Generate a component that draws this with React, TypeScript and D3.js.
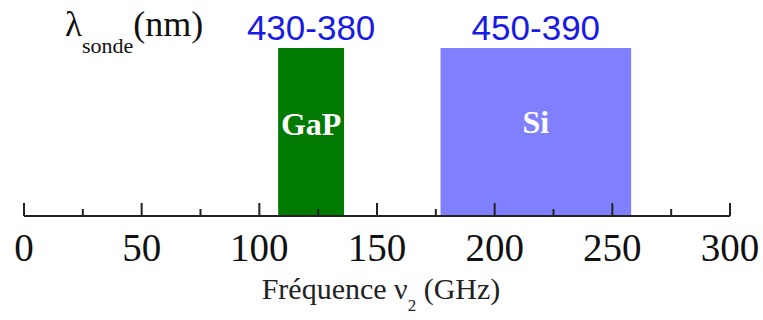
import React from "react";
import * as d3 from "d3";

const materials = ["GaP", "Si"];
const bandStart = [108, 177];
const bandEnd = [136, 258];
const wavelengthLabels = ["430-380", "450-390"];
const bandColors = ["#007a00", "#8080ff"];
const majorTicks = [0, 50, 100, 150, 200, 250, 300];
const minorTicks = [25, 75, 125, 175, 225, 275];

const W = 763;
const H = 320;

export default function App() {
  const x = d3.scaleLinear().domain([0, 300]).range([24, 730]);
  const axisY = 216;
  const barTop = 48;
  const serif = "'Liberation Serif', 'Times New Roman', serif";
  const sans = "'Liberation Sans', Arial, sans-serif";
  return (
    <svg
      width={W}
      height={H}
      style={{ position: "absolute", left: 0, top: 0, background: "#fff" }}
    >
      {materials.map((m, i) => {
        const x0 = x(bandStart[i]);
        const x1 = x(bandEnd[i]);
        const cx = (x0 + x1) / 2;
        return (
          <g key={m}>
            <rect x={x0} y={barTop} width={x1 - x0} height={axisY - barTop} fill={bandColors[i]} />
            <text
              x={cx}
              y={i === 0 ? 135 : 133}
              textAnchor="middle"
              fill="#fff"
              fontFamily={serif}
              fontWeight="bold"
              fontSize={32}
            >
              {m}
            </text>
            <text x={cx} y={40} textAnchor="middle" fill="#1a1ae6" fontFamily={sans} fontSize={35}>
              {wavelengthLabels[i]}
            </text>
          </g>
        );
      })}
      <line x1={x(0)} x2={x(300)} y1={axisY} y2={axisY} stroke="#222" strokeWidth={2} />
      {majorTicks.map((t) => (
        <g key={"M" + t}>
          <line x1={x(t)} x2={x(t)} y1={axisY} y2={axisY - 13} stroke="#222" strokeWidth={2} />
          <text x={x(t)} y={261} textAnchor="middle" fontFamily={serif} fontSize={39} fill="#111">
            {t}
          </text>
        </g>
      ))}
      {minorTicks.map((t) => (
        <line key={"m" + t} x1={x(t)} x2={x(t)} y1={axisY} y2={axisY - 7} stroke="#222" strokeWidth={2} />
      ))}
      <text x={381} y={299} textAnchor="middle" fontFamily={serif} fontSize={30} fill="#222">
        Fréquence ν
        <tspan fontSize={17} dy={12}>2</tspan>
        <tspan dy={-12}> (GHz)</tspan>
      </text>
      <text x={65} y={36} fontFamily={serif} fontSize={35} fill="#111">
        λ
        <tspan fontSize={22} dy={17}>sonde</tspan>
        <tspan dy={-17} fontSize={36}>(nm)</tspan>
      </text>
    </svg>
  );
}
